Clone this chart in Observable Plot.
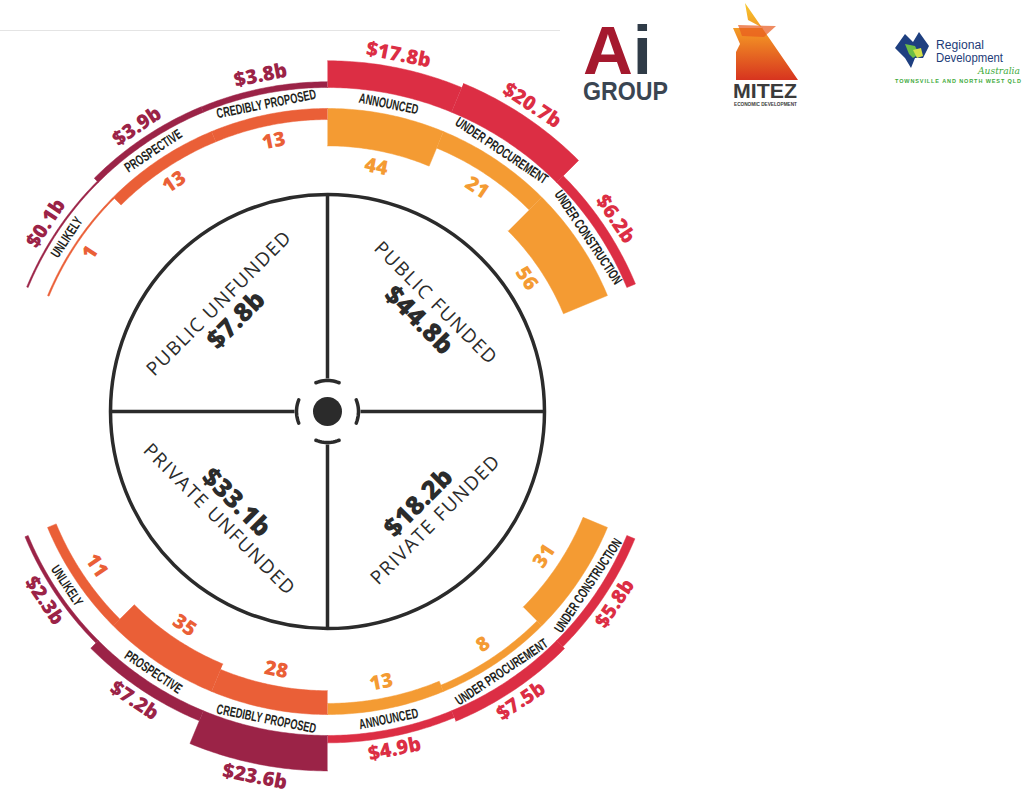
<!DOCTYPE html>
<html>
<head>
<meta charset="utf-8">
<script src="https://cdn.jsdelivr.net/npm/d3@7"></script>
<script src="https://cdn.jsdelivr.net/npm/@observablehq/plot@0.6"></script>
<style>
html,body{margin:0;padding:0;width:1024px;height:792px;overflow:hidden;background:#fff;}
#wrap{position:relative;width:1024px;height:792px;}
#chart{position:absolute;left:0;top:0;}
#logos{position:absolute;left:0;top:0;}
</style>
</head>
<body>
<div id="wrap">
  <div id="chart"></div>
  <svg id="logos" width="1024" height="120" viewBox="0 0 1024 120">
    <defs><linearGradient id="mg" x1="0" y1="0" x2="0" y2="1">
      <stop offset="0" stop-color="#F7C72C"/><stop offset="0.45" stop-color="#F08A24"/><stop offset="1" stop-color="#D7341F"/></linearGradient></defs>
    <rect x="0" y="30" width="560" height="1" fill="#e4e4e4"/>
    <!-- Ai Group -->
    <text x="583" y="74" font-family="'Liberation Sans',sans-serif" font-weight="bold" font-size="69" fill="#A5192E">A<tspan fill="#2F3B47">i</tspan></text>
    <text x="583" y="100" font-family="'Liberation Sans',sans-serif" font-weight="bold" font-size="26" fill="#3A4552" textLength="85" lengthAdjust="spacingAndGlyphs">GROUP</text>
    <!-- MITEZ -->
    <polygon points="745,3 798,80 736,80 736,52 740,44 733,28 763,28 748,20" fill="url(#mg)"/>
    <polygon points="738,25 776,26 764,37 742,36" fill="#E85A1E" opacity="0.7"/>
    <text x="733" y="98" font-family="'Liberation Sans',sans-serif" font-weight="bold" font-size="21" fill="#3b3b3b" textLength="64" lengthAdjust="spacingAndGlyphs">MITEZ</text>
    <text x="734" y="106" font-family="'Liberation Sans',sans-serif" font-weight="bold" font-size="4.5" fill="#3b3b3b" textLength="63" lengthAdjust="spacingAndGlyphs">ECONOMIC DEVELOPMENT</text>
    <!-- RDA -->
    <polygon points="895,48 905,34 913,42 919,32 929,46 923,58 915,58 911,68 905,58" fill="#1E3F80"/>
    <polygon points="905,44 915,46 919,54 913,58 909,54" fill="#6DBE45"/>
    <polygon points="913,50 921,48 923,56 917,58" fill="#D5E04A"/>
    <text x="936" y="48.5" font-family="'Liberation Sans',sans-serif" font-size="12.5" fill="#1D3C78" textLength="48" lengthAdjust="spacingAndGlyphs">Regional</text>
    <text x="936" y="62" font-family="'Liberation Sans',sans-serif" font-size="12.5" fill="#1D3C78" textLength="67" lengthAdjust="spacingAndGlyphs">Development</text>
    <text x="978" y="73.5" font-family="'DejaVu Serif',serif" font-style="italic" font-size="10" fill="#3DAA3A" textLength="42" lengthAdjust="spacingAndGlyphs">Australia</text>
    <text x="895" y="82.5" font-family="'Liberation Sans',sans-serif" font-weight="bold" font-size="5.5" fill="#3DAA3A" textLength="126" lengthAdjust="spacing">TOWNSVILLE AND NORTH WEST QLD</text>
  </svg>
</div>
<script>
// ---------------- data ----------------
const publicFundedStages = ["ANNOUNCED", "UNDER PROCUREMENT", "UNDER CONSTRUCTION"];
const publicFundedCounts = [44, 21, 56];
const publicFundedValues = [17.8, 20.7, 6.2];

const publicUnfundedStages = ["CREDIBLY PROPOSED", "PROSPECTIVE", "UNLIKELY"];
const publicUnfundedCounts = [13, 13, 1];
const publicUnfundedValues = [3.8, 3.9, 0.1];

const privateFundedStages = ["ANNOUNCED", "UNDER PROCUREMENT", "UNDER CONSTRUCTION"];
const privateFundedCounts = [13, 8, 31];
const privateFundedValues = [4.9, 7.5, 5.8];

const privateUnfundedStages = ["CREDIBLY PROPOSED", "PROSPECTIVE", "UNLIKELY"];
const privateUnfundedCounts = [28, 35, 11];
const privateUnfundedValues = [23.6, 7.2, 2.3];

const quadrantNames = ["PUBLIC UNFUNDED", "PUBLIC FUNDED", "PRIVATE FUNDED", "PRIVATE UNFUNDED"];
const quadrantTotals = [7.8, 44.8, 18.2, 33.1];

// ---------------- layout ----------------
const W = 1024, H = 792, CX = 327, CY = 411;
const R_CIRCLE = 217, R_COUNT = 303, R_VALUE = 324, R_STAGE = 313.5, SEG = 22.5;
const COL = {red: "#DC2E44", maroon: "#9B2347", orange: "#F49B33", coral: "#EA5F37", ink: "#2B2B2B"};

const groups = [
  {stages: publicFundedStages, counts: publicFundedCounts, values: publicFundedValues, start: 0, dir: 1, bottom: false, cCol: COL.orange, vCol: COL.red},
  {stages: publicUnfundedStages, counts: publicUnfundedCounts, values: publicUnfundedValues, start: 0, dir: -1, bottom: false, cCol: COL.coral, vCol: COL.maroon},
  {stages: privateFundedStages, counts: privateFundedCounts, values: privateFundedValues, start: 180, dir: -1, bottom: true, cCol: COL.orange, vCol: COL.red},
  {stages: privateUnfundedStages, counts: privateUnfundedCounts, values: privateUnfundedValues, start: 180, dir: 1, bottom: true, cCol: COL.coral, vCol: COL.maroon}
];

const countWidth = d3.scaleLinear().domain([0, 56]).range([0, 47.6]);
const valueWidth = d3.scaleLinear().domain([0, 23.6]).range([0, 35.4]);
const MIN_W = 1.6;

const rad = a => a * Math.PI / 180;
const px = (r, a) => r * Math.sin(rad(a));
const py = (r, a) => -r * Math.cos(rad(a));

const polys = [], stageLabels = [], countLabels = [], valueLabels = [];
function ring(id, r0, r1, a0, a1, color) {
  const n = 40;
  for (let k = 0; k <= n; k++) { const a = a0 + (a1 - a0) * k / n; polys.push({id, x: px(r1, a), y: py(r1, a), color}); }
  for (let k = n; k >= 0; k--) { const a = a0 + (a1 - a0) * k / n; polys.push({id, x: px(r0, a), y: py(r0, a), color}); }
}

groups.forEach((g, gi) => g.stages.forEach((s, i) => {
  const a0 = g.start + g.dir * SEG * i, a1 = g.start + g.dir * SEG * (i + 1), am = (a0 + a1) / 2;
  const rot = g.bottom ? am - 180 : am;
  const tc = Math.max(MIN_W, countWidth(g.counts[i]));
  const tv = Math.max(MIN_W, valueWidth(g.values[i]));
  ring(`c${gi}-${i}`, R_COUNT - tc, R_COUNT, a0, a1, g.cCol);
  ring(`v${gi}-${i}`, R_VALUE, R_VALUE + tv, a0, a1, g.vCol);
  stageLabels.push({x: px(R_STAGE, am), y: py(R_STAGE, am), text: s, rotate: rot});
  const rc = R_COUNT - tc - 16, rv = R_VALUE + tv + 13;
  countLabels.push({x: px(rc, am), y: py(rc, am), text: String(g.counts[i]), rotate: rot, color: g.cCol});
  valueLabels.push({x: px(rv, am), y: py(rv, am), text: `$${g.values[i]}b`, rotate: rot, color: g.vCol});
}));

// quadrant labels
const quadAngles = [-45, 45, 135, 225];
const quadRot = [-45, 45, -45, 45];
const quadNameLabels = quadrantNames.map((n, i) => ({x: px(153, quadAngles[i]), y: py(153, quadAngles[i]), text: n, rotate: quadRot[i]}));
const quadTotalLabels = quadrantTotals.map((v, i) => ({x: px(129, quadAngles[i]), y: py(129, quadAngles[i]), text: `$${v}b`, rotate: quadRot[i]}));

// centre cross + brackets
const axesA = [0, 90, 180, 270];
const crossLinks = axesA.map(a => ({x1: px(33, a), y1: py(33, a), x2: px(R_CIRCLE, a), y2: py(R_CIRCLE, a)}));
const brackets = [];
axesA.forEach(a => { for (let k = 0; k <= 12; k++) { const t = a - 22 + 44 * k / 12; brackets.push({id: a, x: px(31, t), y: py(31, t)}); } });

const plot = Plot.plot({
  width: W, height: H, margin: 0,
  x: {domain: [-CX, W - CX], range: [0, W], axis: null},
  y: {domain: [-CY, H - CY], range: [0, H], axis: null},
  color: {type: "identity"},
  style: {background: "transparent", overflow: "visible"},
  marks: [
    Plot.line(polys, {x: "x", y: "y", z: "id", fill: "color", stroke: "color", strokeWidth: 0.5}),
    Plot.dot([{x: 0, y: 0}], {x: "x", y: "y", r: R_CIRCLE, fill: "none", stroke: COL.ink, strokeWidth: 3.5}),
    Plot.link(crossLinks, {x1: "x1", y1: "y1", x2: "x2", y2: "y2", stroke: COL.ink, strokeWidth: 3.5}),
    Plot.line(brackets, {x: "x", y: "y", z: "id", stroke: COL.ink, strokeWidth: 3.5}),
    Plot.dot([{x: 0, y: 0}], {x: "x", y: "y", r: 14.5, fill: COL.ink}),
    Plot.text(stageLabels, {x: "x", y: "y", text: "text", rotate: "rotate", fill: "#231F20", fontSize: 14, fontWeight: "bold", fontFamily: "'Liberation Sans',sans-serif"}),
    Plot.text(countLabels, {x: "x", y: "y", text: "text", rotate: "rotate", fill: "color", fontSize: 20, fontWeight: 800, fontFamily: "'Open Sans',sans-serif"}),
    Plot.text(valueLabels, {x: "x", y: "y", text: "text", rotate: "rotate", fill: "color", fontSize: 20, fontWeight: 800, fontFamily: "'Open Sans',sans-serif"}),
    Plot.text(quadNameLabels, {x: "x", y: "y", text: "text", rotate: "rotate", fill: COL.ink, fontSize: 19, fontWeight: 400, fontFamily: "'Open Sans',sans-serif"}),
    Plot.text(quadTotalLabels, {x: "x", y: "y", text: "text", rotate: "rotate", fill: COL.ink, fontSize: 26, fontWeight: 800, fontFamily: "'Open Sans',sans-serif"})
  ]
});
document.getElementById("chart").appendChild(plot);

// typographic touches, picked by text content
const stageSet = new Set([...publicFundedStages, ...publicUnfundedStages, ...privateFundedStages, ...privateUnfundedStages]);
const nameSet = new Set(quadrantNames);
d3.select(plot).selectAll("text").each(function() {
  const t = d3.select(this), s = this.textContent;
  if (stageSet.has(s)) t.attr("transform", (t.attr("transform") || "") + " scale(0.66,1)");
  else if (nameSet.has(s)) t.style("letter-spacing", "1.5px");
});
</script>
</body>
</html>
